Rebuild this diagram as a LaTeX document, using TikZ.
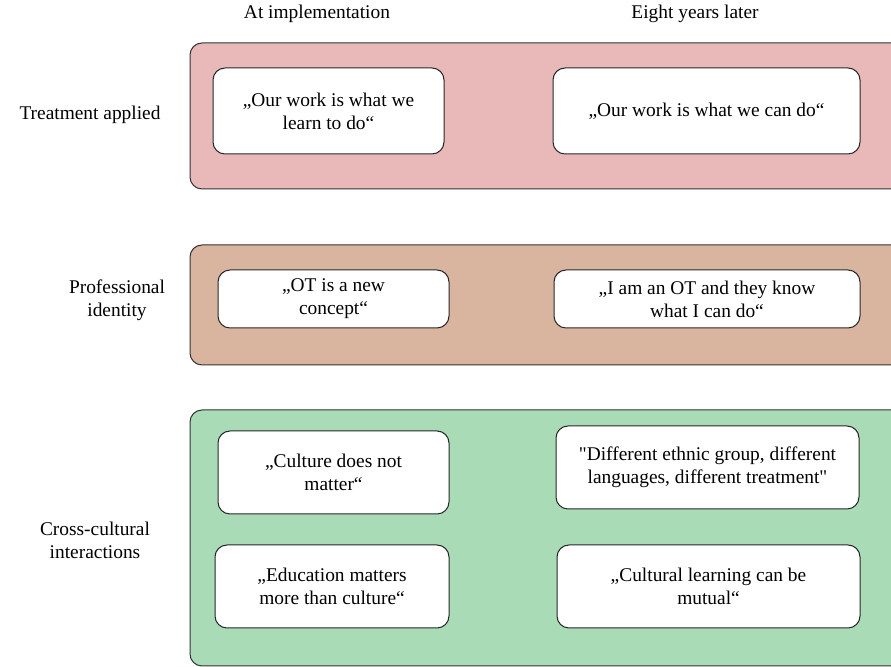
\documentclass[tikz,border=0pt]{standalone}
\usepackage{fontspec}
\setmainfont{Liberation Serif}[Ligatures=TeXOff]

\definecolor{treatpink}{HTML}{E8B9B8}
\definecolor{identtan}{HTML}{D9B49F}
\definecolor{crossgreen}{HTML}{A9DCB6}

\tikzset{
  panel/.style={draw=black!80, line width=0.5pt, rounded corners=6pt},
  quotebox/.style={draw=black!85, line width=0.5pt, fill=white, rounded corners=6pt,
    align=center, inner sep=2pt},
  rowlabel/.style={align=center},
  collabel/.style={}
}

\begin{document}
\begin{tikzpicture}[x=0.5pt, y=-0.5pt, font=\fontsize{9.7}{11.5}\selectfont]
\useasboundingbox (0,0) rectangle (891,667);
\clip (0,0) rectangle (891,667);

% column heads
\node[collabel] (impl) at (317,14) {At implementation};
\node[collabel] (later) at (695,14) {Eight years later};

% panels
\draw[panel, fill=treatpink] (190,43) rectangle (905,189);
\draw[panel, fill=identtan] (190,245) rectangle (905,365);
\draw[panel, fill=crossgreen] (190,410) rectangle (905,666);

% row labels
\node[rowlabel] (treat) at (90,115) {Treatment applied};
\node[rowlabel] (ident) at (117,300) {Professional\\identity};
\node[rowlabel] (cross) at (95,540) {Cross-cultural\\interactions};

% treatment applied
\node[quotebox, minimum width=115.5pt, minimum height=43pt] (t1) at (328.5,111)
  {„Our work is what we\\learn to do“};
\node[quotebox, minimum width=153.5pt, minimum height=43pt] (t2) at (706.5,111)
  {„Our work is what we can do“};

% professional identity
\node[quotebox, minimum width=115.5pt, minimum height=29pt] (p1) at (333.5,299)
  {„OT is a new\\concept“};
\node[quotebox, minimum width=153pt, minimum height=29pt] (p2) at (707,299)
  {„I am an OT and they know\\what I can do“};

% cross-cultural interactions
\node[quotebox, minimum width=115.5pt, minimum height=41.5pt] (c1) at (333.5,472.5)
  {„Culture does not\\matter“};
\node[quotebox, minimum width=151.5pt, minimum height=41.5pt] (c2) at (707.5,467.5)
  {"Different ethnic group, different\\languages, different treatment"};
\node[quotebox, minimum width=117pt, minimum height=41.5pt] (c3) at (332,586.5)
  {„Education matters\\more than culture“};
\node[quotebox, minimum width=151.5pt, minimum height=41.5pt] (c4) at (708.5,586.5)
  {„Cultural learning can be\\mutual“};
\end{tikzpicture}
\end{document}
